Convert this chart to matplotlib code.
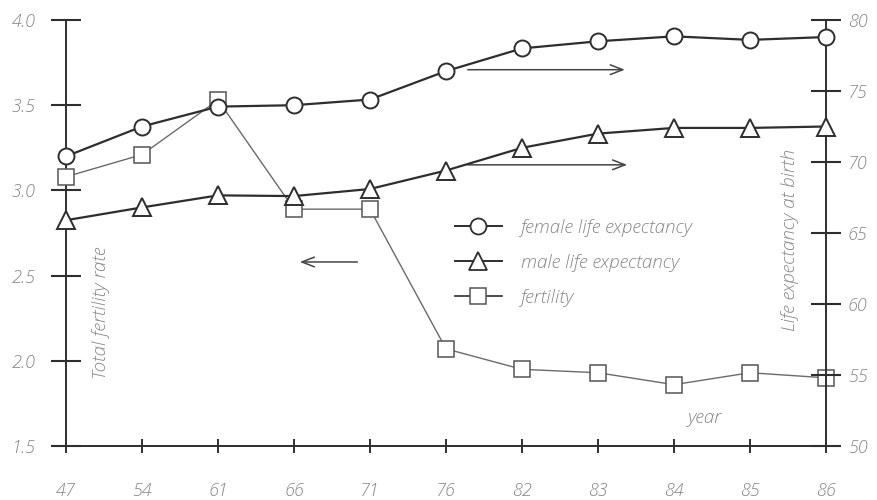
import matplotlib
matplotlib.use("Agg")
import matplotlib.pyplot as plt
from matplotlib.lines import Line2D

years = ["47", "54", "61", "66", "71", "76", "82", "83", "84", "85", "86"]
female_le = [70.4, 72.5, 73.9, 74.0, 74.4, 76.4, 78.0, 78.5, 78.85, 78.6, 78.8]
male_le = [65.9, 66.8, 67.65, 67.6, 68.1, 69.4, 71.0, 72.0, 72.4, 72.4, 72.5]
fertility = [3.08, 3.21, 3.53, 2.89, 2.89, 2.07, 1.95, 1.93, 1.86, 1.93, 1.90]
left_ticks = [1.5, 2.0, 2.5, 3.0, 3.5, 4.0]
right_ticks = [50, 55, 60, 65, 70, 75, 80]

TXT = "#858585"
INK = "#2e2e2e"
GRAY = "#6a6a6a"
FONT = "Open Sans"
FS = 13.5
TFS = 13

fig = plt.figure(figsize=(8.78, 5.0), dpi=100)
ax = fig.add_axes([66/878, 54/500, 760/878, 426/500])
ax2 = ax.twinx()

x = list(range(len(years)))

ax.set_xlim(0, len(years) - 1)
ax.set_ylim(1.5, 4.0)
ax2.set_ylim(50, 79.72)

ax.plot(x, fertility, color=GRAY, lw=1.0, marker="s", ms=11, mfc="white",
        mec="#555555", mew=1.1, clip_on=False, zorder=3)
ax2.plot(x, female_le, color=INK, lw=1.6, marker="o", ms=11.5, mfc="white",
         mec=INK, mew=1.4, clip_on=False, zorder=4)
ax2.plot(x, male_le, color=INK, lw=1.6, marker="^", ms=13, mfc="white",
         mec=INK, mew=1.4, clip_on=False, zorder=4)

for a in (ax, ax2):
    a.spines["top"].set_visible(False)
    for s in a.spines.values():
        s.set_color(INK)
        s.set_linewidth(1.4)
ax2.spines["left"].set_visible(False)
ax2.spines["bottom"].set_visible(False)
ax.spines["right"].set_visible(False)

ax.set_xticks(x)
ax.set_xticklabels(years)
ax.set_yticks(left_ticks)
ax.set_yticklabels([f"{v:.1f}" for v in left_ticks])
ax2.set_yticks(right_ticks)
ax2.set_yticklabels([str(v) for v in right_ticks])

ax.tick_params(axis="x", direction="inout", length=9.5, width=1.4, color=INK,
               pad=21, labelsize=TFS, labelcolor=TXT)
ax.tick_params(axis="y", direction="inout", length=21.5, width=1.5, color=INK,
               pad=11, labelsize=TFS, labelcolor=TXT)
ax2.tick_params(axis="y", direction="inout", length=21.5, width=1.5, color=INK,
                pad=5, labelsize=TFS, labelcolor=TXT)
for lab in ax.get_xticklabels() + ax.get_yticklabels() + ax2.get_yticklabels():
    lab.set_fontfamily(FONT)
    lab.set_fontstyle("italic")
    lab.set_fontweight("light")

common = dict(fontsize=FS, color=TXT, family=FONT, style="italic", weight="light")
ax.text(0.046, 0.312, "Total fertility rate", transform=ax.transAxes, rotation=90,
        ha="center", va="center", **common)
ax.text(0.953, 0.484, "Life expectancy at birth", transform=ax.transAxes, rotation=90,
        ha="center", va="center", **common)
ax.text(0.841, 0.066, "year", transform=ax.transAxes, ha="center", va="center", **common)

arrow_kw = dict(arrowstyle="->,head_length=0.9,head_width=0.35", color="#444444", lw=1.1)
ax2.annotate("", xy=(7.39, 76.5), xytext=(5.25, 76.5), arrowprops=arrow_kw)
ax2.annotate("", xy=(7.42, 69.8), xytext=(5.25, 69.8), arrowprops=arrow_kw)
ax.annotate("", xy=(3.04, 2.58), xytext=(3.87, 2.58), arrowprops=arrow_kw)

handles = [
    Line2D([], [], color=INK, lw=1.4, marker="o", ms=11.5, mfc="white", mec=INK, mew=1.3),
    Line2D([], [], color=INK, lw=1.4, marker="^", ms=13, mfc="white", mec=INK, mew=1.3),
    Line2D([], [], color=INK, lw=1.2, marker="s", ms=11, mfc="white", mec="#555555", mew=1.1),
]
labels = ["female life expectancy", "male life expectancy", "fertility"]
leg = ax2.legend(handles, labels, loc="upper left", bbox_to_anchor=(455/878, 1 - 219/500),
                 bbox_transform=fig.transFigure, frameon=False, borderpad=0,
                 borderaxespad=0, handlelength=2.5, handletextpad=1.0,
                 labelspacing=0.9, fontsize=FS)
for t in leg.get_texts():
    t.set_color(TXT)
    t.set_fontfamily(FONT)
    t.set_fontstyle("italic")
    t.set_fontweight("light")

fig.savefig("out.png", dpi=100)
